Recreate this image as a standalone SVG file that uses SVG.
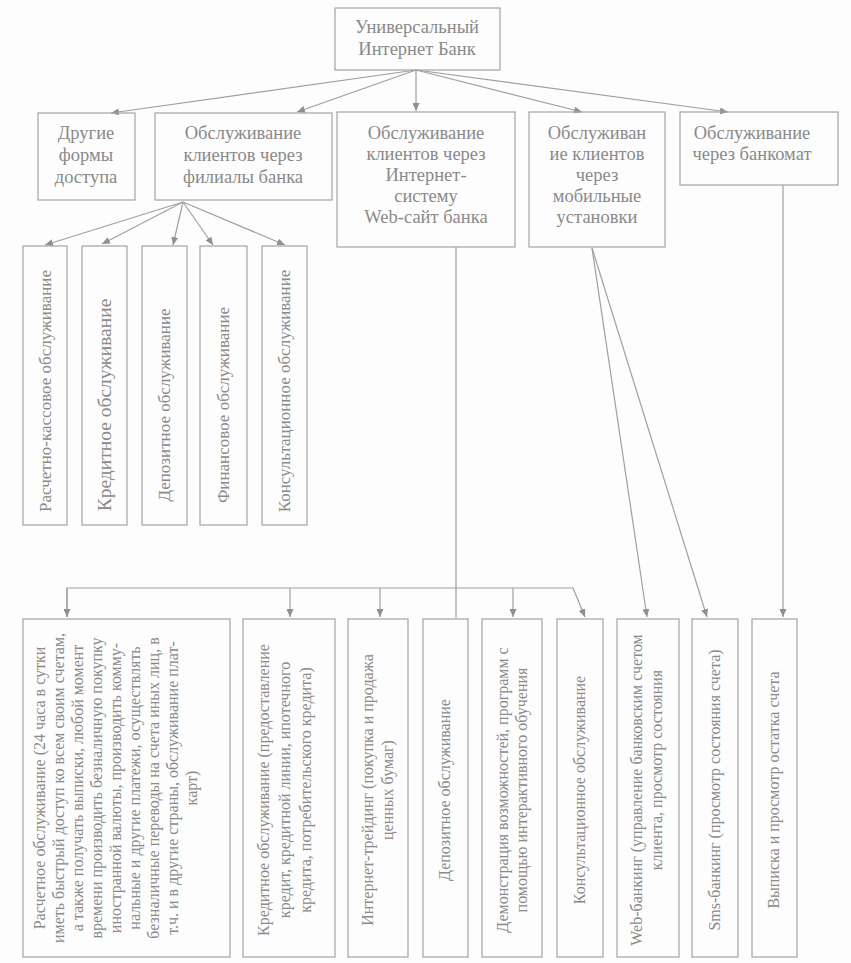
<svg xmlns="http://www.w3.org/2000/svg" width="851" height="963" viewBox="0 0 851 963">
<defs>
<marker id="arr" markerWidth="8" markerHeight="7" refX="8" refY="3.5" orient="auto" markerUnits="userSpaceOnUse">
<path d="M0,0 L8,3.5 L0,7 z" fill="#8f8f8f"/>
</marker>
<style>
.box{fill:none;stroke:#a4a4a4;stroke-width:1.2}
.ln{fill:none;stroke:#a0a0a0;stroke-width:1.2}
.t{font-family:"Liberation Serif","Times New Roman",serif;fill:#8a8a8a;text-anchor:middle}
.h{font-size:18.5px}
.m{font-size:17px}
.s{font-size:16px}
</style>
</defs>
<rect width="851" height="963" fill="#fdfdfd"/>

<g id="connectors">
<line class="ln" x1="416" y1="70" x2="111" y2="113" marker-end="url(#arr)"/>
<line class="ln" x1="416" y1="70" x2="297" y2="112" marker-end="url(#arr)"/>
<line class="ln" x1="416" y1="70" x2="416" y2="111" marker-end="url(#arr)"/>
<line class="ln" x1="416" y1="70" x2="582" y2="112" marker-end="url(#arr)"/>
<line class="ln" x1="416" y1="70" x2="728" y2="112" marker-end="url(#arr)"/>

<line class="ln" x1="183" y1="202" x2="45" y2="245" marker-end="url(#arr)"/>
<line class="ln" x1="183" y1="202" x2="102" y2="244" marker-end="url(#arr)"/>
<line class="ln" x1="183" y1="202" x2="173" y2="245" marker-end="url(#arr)"/>
<line class="ln" x1="183" y1="202" x2="213" y2="245" marker-end="url(#arr)"/>
<line class="ln" x1="183" y1="202" x2="285" y2="245" marker-end="url(#arr)"/>

<line class="ln" x1="456" y1="247" x2="456" y2="618"/>
<polyline class="ln" points="67,617 67,588 573,588"/>
<line class="ln" x1="67" y1="588" x2="67" y2="617" marker-end="url(#arr)"/>
<line class="ln" x1="290" y1="588" x2="290" y2="617" marker-end="url(#arr)"/>
<line class="ln" x1="380" y1="588" x2="380" y2="617" marker-end="url(#arr)"/>
<line class="ln" x1="513" y1="588" x2="513" y2="617" marker-end="url(#arr)"/>
<line class="ln" x1="573" y1="588" x2="585" y2="617" marker-end="url(#arr)"/>

<line class="ln" x1="592" y1="248" x2="647" y2="617" marker-end="url(#arr)"/>
<line class="ln" x1="592" y1="248" x2="707" y2="617" marker-end="url(#arr)"/>
<line class="ln" x1="783" y1="185" x2="783" y2="617" marker-end="url(#arr)"/>
</g>

<g id="root">
<rect class="box" x="335" y="8" width="165" height="62"/>
<text class="t h" x="417" y="33">Универсальный</text>
<text class="t h" x="417" y="55">Интернет Банк</text>
</g>

<g id="other">
<rect class="box" x="38" y="113" width="97" height="87"/>
<text class="t h" x="86" y="139">Другие</text>
<text class="t h" x="86" y="161">формы</text>
<text class="t h" x="86" y="183">доступа</text>
</g>

<g id="branches">
<rect class="box" x="155" y="113" width="177" height="87"/>
<text class="t h" x="243" y="139">Обслуживание</text>
<text class="t h" x="243" y="161">клиентов через</text>
<text class="t h" x="243" y="183">филиалы банка</text>
</g>

<g id="web">
<rect class="box" x="337" y="112" width="178" height="135"/>
<text class="t h" x="426" y="139">Обслуживание</text>
<text class="t h" x="426" y="160">клиентов через</text>
<text class="t h" x="426" y="181">Интернет-</text>
<text class="t h" x="426" y="202">систему</text>
<text class="t h" x="426" y="223">Web-сайт банка</text>
</g>

<g id="mobile">
<rect class="box" x="529" y="112" width="136" height="135"/>
<text class="t h" x="597" y="139">Обслуживан</text>
<text class="t h" x="597" y="160">ие клиентов</text>
<text class="t h" x="597" y="181">через</text>
<text class="t h" x="597" y="202">мобильные</text>
<text class="t h" x="597" y="223">установки</text>
</g>

<g id="atm">
<rect class="box" x="680" y="112" width="158" height="73"/>
<text class="t h" x="752" y="139">Обслуживание</text>
<text class="t h" x="752" y="160">через банкомат</text>
</g>

<g id="b-cash">
<rect class="box" x="23" y="246" width="44" height="279"/>
<text class="t m" transform="translate(51,391) rotate(-90)">Расчетно-кассовое обслуживание</text>
</g>
<g id="b-credit">
<rect class="box" x="82" y="246" width="45" height="279"/>
<text class="t" style="font-size:19.5px" transform="translate(111,405) rotate(-90)">Кредитное обслуживание</text>
</g>
<g id="b-deposit">
<rect class="box" x="142" y="246" width="45" height="279"/>
<text class="t m" transform="translate(170,405) rotate(-90)">Депозитное обслуживание</text>
</g>
<g id="b-finance">
<rect class="box" x="200" y="246" width="47" height="279"/>
<text class="t m" transform="translate(229,405) rotate(-90)">Финансовое обслуживание</text>
</g>
<g id="b-consult">
<rect class="box" x="262" y="246" width="45" height="279"/>
<text class="t m" transform="translate(290,391) rotate(-90)">Консультационное обслуживание</text>
</g>

<g id="w-settle">
<rect class="box" x="23" y="619" width="207" height="338"/>
<g class="t s">
<text transform="translate(45,788) rotate(-90)">Расчетное обслуживание (24 часа в сутки</text>
<text transform="translate(64,788) rotate(-90)">иметь быстрый доступ ко всем своим счетам,</text>
<text transform="translate(83,788) rotate(-90)">а также получать выписки, любой момент</text>
<text transform="translate(102,788) rotate(-90)">времени производить безналичную покупку</text>
<text transform="translate(121,788) rotate(-90)">иностранной валюты, производить комму-</text>
<text transform="translate(140,788) rotate(-90)">нальные и другие платежи, осуществлять</text>
<text transform="translate(159,788) rotate(-90)">безналичные переводы на счета иных лиц, в</text>
<text transform="translate(178,788) rotate(-90)">т.ч. и в другие страны, обслуживание плат-</text>
<text transform="translate(197,788) rotate(-90)">карт)</text>
</g>
</g>

<g id="w-credit">
<rect class="box" x="243" y="619" width="92" height="338"/>
<g class="t s">
<text transform="translate(269,790) rotate(-90)">Кредитное обслуживание (предоставление</text>
<text transform="translate(290,790) rotate(-90)">кредит, кредитной линии, ипотечного</text>
<text transform="translate(311,790) rotate(-90)">кредита, потребительского кредита)</text>
</g>
</g>

<g id="w-trading">
<rect class="box" x="348" y="619" width="60" height="338"/>
<g class="t s">
<text transform="translate(373,790) rotate(-90)">Интернет-трейдинг (покупка и продажа</text>
<text transform="translate(393,790) rotate(-90)">ценных бумаг)</text>
</g>
</g>

<g id="w-deposit">
<rect class="box" x="423" y="619" width="45" height="338"/>
<text class="t s" transform="translate(450,790) rotate(-90)">Депозитное обслуживание</text>
</g>

<g id="w-demo">
<rect class="box" x="482" y="619" width="60" height="338"/>
<g class="t s">
<text transform="translate(508,790) rotate(-90)">Демонстрация возможностей, программ с</text>
<text transform="translate(527,790) rotate(-90)">помощью интерактивного обучения</text>
</g>
</g>

<g id="w-consult">
<rect class="box" x="557" y="619" width="46" height="338"/>
<text class="t s" transform="translate(585,790) rotate(-90)">Консультационное обслуживание</text>
</g>

<g id="m-web">
<rect class="box" x="617" y="619" width="62" height="338"/>
<g class="t s">
<text transform="translate(642,790) rotate(-90)">Web-банкинг (управление банковским счетом</text>
<text transform="translate(662,770) rotate(-90)">клиента, просмотр состояния</text>
</g>
</g>

<g id="m-sms">
<rect class="box" x="692" y="619" width="46" height="338"/>
<text class="t s" transform="translate(720,790) rotate(-90)">Sms-банкинг (просмотр состояния счета)</text>
</g>

<g id="atm-stmt">
<rect class="box" x="752" y="619" width="45" height="338"/>
<text class="t s" transform="translate(779,790) rotate(-90)">Выписка и просмотр остатка счета</text>
</g>
</svg>
